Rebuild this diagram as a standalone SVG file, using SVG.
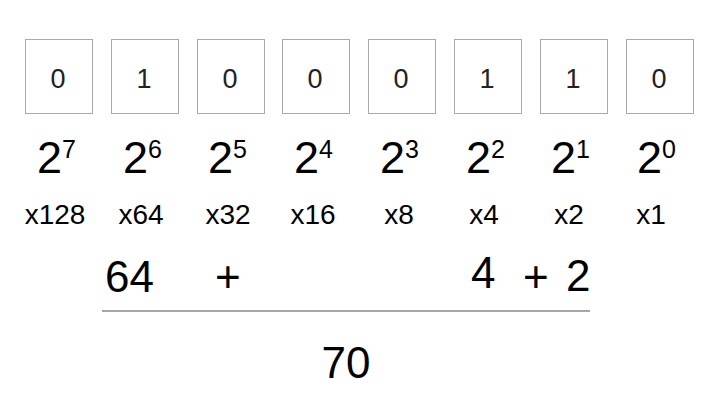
<svg xmlns="http://www.w3.org/2000/svg" width="709" height="400" viewBox="0 0 709 400">
<style>
.box{fill:#fff;stroke:#aaa;stroke-width:1}
.bit{font-family:"Liberation Sans",Arial,sans-serif;font-size:27px;fill:#222;text-anchor:middle}
.pow{font-family:"Liberation Sans",Arial,sans-serif;font-size:45px;fill:#000}
.sup{font-size:25px}
.mul{font-family:"Liberation Sans",Arial,sans-serif;font-size:28px;fill:#000;text-anchor:middle}
.sum{font-family:"Liberation Sans",Arial,sans-serif;font-size:44px;fill:#000}
</style>
<rect width="709" height="400" fill="#fff"/>
<g id="bit7"><rect class="box" x="25.5" y="39.5" width="67" height="74"/><text class="bit" x="58" y="88">0</text><text class="pow" x="37" y="173">2<tspan class="sup" dy="-15">7</tspan></text><text class="mul" x="55" y="224">x128</text></g>
<g id="bit6"><rect class="box" x="111.5" y="39.5" width="67" height="74"/><text class="bit" x="144" y="88">1</text><text class="pow" x="123" y="173">2<tspan class="sup" dy="-15">6</tspan></text><text class="mul" x="141" y="224">x64</text></g>
<g id="bit5"><rect class="box" x="197.5" y="39.5" width="67" height="74"/><text class="bit" x="230" y="88">0</text><text class="pow" x="208" y="173">2<tspan class="sup" dy="-15">5</tspan></text><text class="mul" x="228" y="224">x32</text></g>
<g id="bit4"><rect class="box" x="282.5" y="39.5" width="67" height="74"/><text class="bit" x="315" y="88">0</text><text class="pow" x="294" y="173">2<tspan class="sup" dy="-15">4</tspan></text><text class="mul" x="313" y="224">x16</text></g>
<g id="bit3"><rect class="box" x="368.5" y="39.5" width="67" height="74"/><text class="bit" x="401" y="88">0</text><text class="pow" x="380" y="173">2<tspan class="sup" dy="-15">3</tspan></text><text class="mul" x="399" y="224">x8</text></g>
<g id="bit2"><rect class="box" x="454.5" y="39.5" width="67" height="74"/><text class="bit" x="487" y="88">1</text><text class="pow" x="466" y="173">2<tspan class="sup" dy="-15">2</tspan></text><text class="mul" x="484" y="224">x4</text></g>
<g id="bit1"><rect class="box" x="540.5" y="39.5" width="67" height="74"/><text class="bit" x="573" y="88">1</text><text class="pow" x="551" y="173">2<tspan class="sup" dy="-15">1</tspan></text><text class="mul" x="569" y="224">x2</text></g>
<g id="bit0"><rect class="box" x="626.5" y="39.5" width="67" height="74"/><text class="bit" x="659" y="88">0</text><text class="pow" x="637" y="173">2<tspan class="sup" dy="-15">0</tspan></text><text class="mul" x="651" y="224">x1</text></g>
<g id="sum">
<text class="sum" x="105" y="292">64</text>
<text class="sum" x="215" y="292">+</text>
<text class="sum" x="471" y="288">4</text>
<text class="sum" x="523" y="292">+</text>
<text class="sum" x="566" y="291">2</text>
</g>
<g id="connectors"><line x1="102" y1="311" x2="590" y2="311" stroke="#888" stroke-width="1.5"/></g>
<g id="result"><text class="sum" x="346" y="378" text-anchor="middle">70</text></g>
</svg>
